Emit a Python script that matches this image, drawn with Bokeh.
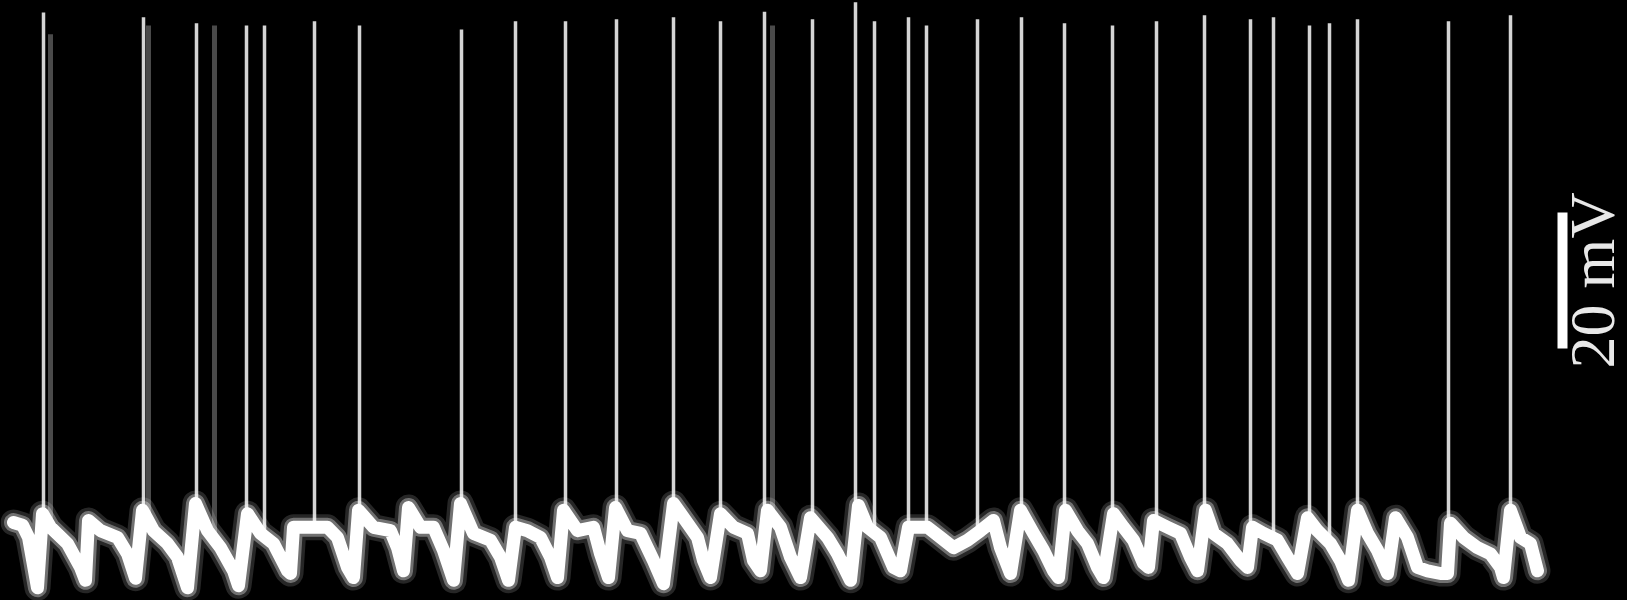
import math
from bokeh.plotting import figure
from bokeh.models import Range1d, Label
from bokeh.embed import file_html
from bokeh.resources import INLINE
import numpy as np

# ---- data (time in ms, membrane potential in mV) ----
trace_t = [13, 22, 28, 33, 37, 42, 50, 67, 80, 85, 88, 100, 117, 127, 135, 142, 153, 167, 177, 187,
           195, 207, 220, 233, 238, 247, 260, 273, 287, 290, 293, 307, 327, 337, 347, 353, 358, 373,
           390, 397, 403, 408, 420, 433, 443, 453, 460, 473, 490, 500, 508, 515, 527, 540, 550, 557,
           563, 577, 593, 600, 608, 615, 627, 640, 653, 663, 673, 687, 697, 703, 710, 720, 733, 747,
           753, 760, 767, 780, 790, 800, 810, 827, 837, 850, 858, 867, 880, 893, 900, 908, 927, 940,
           953, 967, 980, 993, 1000, 1010, 1020, 1033, 1043, 1053, 1058, 1065, 1077, 1087, 1097, 1103,
           1113, 1123, 1133, 1143, 1148, 1153, 1167, 1180, 1190, 1197, 1205, 1213, 1227, 1240, 1247,
           1252, 1263, 1277, 1287, 1297, 1307, 1317, 1330, 1340, 1348, 1357, 1367, 1377, 1387, 1395,
           1407, 1417, 1427, 1440, 1447, 1450, 1463, 1477, 1490, 1500, 1503, 1510, 1520, 1530, 1537]
trace_v = [-60.0, -60.4, -62.2, -66.3, -69.6, -58.7, -60.7, -63.1, -66.6, -68.5, -59.7, -61.2, -62.2,
           -64.6, -68.2, -58.2, -61.2, -63.1, -65.1, -69.6, -57.2, -61.2, -63.7, -67.1, -69.3, -58.7,
           -61.6, -63.1, -67.1, -67.5, -60.7, -60.7, -60.7, -62.2, -66.6, -68.1, -58.2, -60.7, -61.2,
           -63.7, -67.1, -57.8, -60.7, -60.7, -64.1, -68.5, -57.2, -61.6, -62.6, -65.1, -68.5, -60.7,
           -61.2, -62.2, -65.1, -68.1, -58.2, -61.2, -60.7, -64.6, -68.1, -57.8, -61.2, -61.6, -65.6,
           -69.0, -57.2, -60.1, -62.2, -65.6, -68.1, -58.7, -60.7, -61.6, -65.6, -67.1, -58.2, -60.7,
           -65.1, -68.1, -59.3, -62.2, -64.6, -68.5, -57.5, -60.7, -62.2, -66.6, -67.1, -60.7, -60.7,
           -62.2, -63.7, -62.6, -61.2, -59.7, -63.7, -67.5, -58.2, -61.6, -64.1, -67.1, -68.1, -58.2,
           -61.2, -63.1, -66.6, -68.1, -58.7, -60.7, -62.6, -66.0, -66.6, -59.7, -60.7, -61.6, -65.1,
           -67.1, -58.2, -61.6, -63.1, -65.6, -66.6, -60.7, -61.6, -62.6, -65.1, -67.5, -59.3, -61.2,
           -63.1, -65.6, -68.5, -58.2, -61.6, -64.1, -67.5, -59.3, -62.2, -66.6, -67.1, -67.5, -67.5,
           -60.1, -62.2, -63.7, -64.6, -66.6, -68.1, -58.2, -62.2, -63.1, -67.1]

spike_t = [43, 143, 196, 246, 264, 314, 359, 461, 515, 565, 616, 673, 720, 764, 812, 855, 874, 908,
           926, 977, 1021, 1064, 1112, 1156, 1204, 1250, 1273, 1309, 1329, 1357, 1448, 1510]
spike_peak = [15.0, 14.3, 13.4, 13.1, 13.1, 13.7, 13.1, 12.5, 13.7, 13.7, 14.0, 14.3, 13.7, 15.1,
              14.0, 16.5, 13.7, 14.3, 13.1, 14.0, 14.3, 13.4, 13.1, 13.7, 14.6, 14.0, 14.3, 13.1,
              13.4, 14.0, 13.7, 14.6]

faint_spike_t = [50, 148, 214, 772]
faint_spike_peak = [11.8, 13.1, 13.1, 13.1]

scale_bar_t = 1562
scale_bar_bottom = -34.4
scale_bar_mv = 20
scale_label = "20 mV"

# ---- figure ----
p = figure(width=1627, height=600, x_range=Range1d(0, 1627), y_range=Range1d(-71.47, 16.76),
           output_backend="svg", toolbar_location=None, x_axis_location=None, y_axis_location=None,
           background_fill_color="black", border_fill_color="black", outline_line_color=None,
           min_border=0)
p.grid.visible = False

spike_base = np.interp(spike_t, trace_t, trace_v)
faint_base = np.interp(faint_spike_t, trace_t, trace_v)

p.segment(x0=faint_spike_t, y0=faint_base, x1=faint_spike_t, y1=faint_spike_peak,
          line_color="#4a4a4a", line_width=5)
p.segment(x0=spike_t, y0=spike_base, x1=spike_t, y1=spike_peak,
          line_color="#d4d4d4", line_width=3.5)
# layered soft halo to mimic the noisy band of the recording
p.line(trace_t, trace_v, line_color="white", line_width=26, line_alpha=0.15,
       line_join="round", line_cap="round")
p.line(trace_t, trace_v, line_color="white", line_width=19, line_alpha=0.35,
       line_join="round", line_cap="round")
p.line(trace_t, trace_v, line_color="white", line_width=13, line_join="round", line_cap="round")

p.segment(x0=[scale_bar_t], y0=[scale_bar_bottom], x1=[scale_bar_t],
          y1=[scale_bar_bottom + scale_bar_mv], line_color="white", line_width=10)

lbl = Label(x=1592, y=scale_bar_bottom + scale_bar_mv / 2, text=scale_label, angle=math.pi / 2,
            text_align="center", text_baseline="alphabetic", text_font="Liberation Serif",
            text_font_size="64px", text_color="#e8e8e8")
p.add_layout(lbl)

html = file_html(p, INLINE)
html = html.replace("<head>", "<head><style>html,body{margin:0;background:#000;}</style>", 1)
open("out.html", "w").write(html)
